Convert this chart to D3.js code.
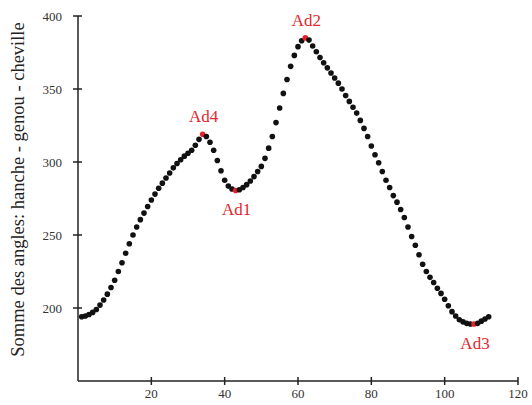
<!DOCTYPE html>
<html>
<head>
<meta charset="utf-8">
<script src="https://cdn.jsdelivr.net/npm/d3@7"></script>
<style>
  html, body { margin: 0; padding: 0; background: #fff; }
  svg { display: block; }
</style>
</head>
<body>
<svg id="chart" width="532" height="405"></svg>
<script>
// ---- data ----
const frames = d3.range(1, 113);
const sumAngles = [
  194, 194.5, 195.5, 197, 199, 202, 205.5, 209.5, 214, 219,
  225, 231, 237.5, 244, 250, 255.5, 260.5, 265, 269.5, 274,
  278, 282, 285.5, 289, 292.5, 296, 299, 301.5, 304, 306,
  308, 311.5, 315.5, 319, 317.5, 313.5, 308, 301, 294, 287.5,
  283.5, 281.5, 280.5, 281, 282.5, 284.5, 287, 290, 293.5, 297,
  302.5, 309.5, 317.5, 327, 337, 347, 356.5, 365.5, 373, 379,
  383, 385, 383.5, 379.5, 375.5, 371.5, 368, 364.5, 361, 357.5,
  354, 350, 345.5, 341.5, 337.5, 333.5, 328.5, 323, 317.5, 311,
  305, 299.5, 293.5, 287.5, 282.5, 277, 272.5, 267.5, 262, 255.5,
  249, 243, 236.5, 230, 225, 221, 217.5, 213.5, 210, 206,
  201.5, 197.5, 194.5, 192, 190.5, 189.5, 189, 189, 189.5, 191,
  192.5, 194
];
const keyNames = ["Ad4", "Ad1", "Ad2", "Ad3"];
const keyFrames = [34, 43, 62, 108];
const keyPlace = ["above", "below", "above", "below"];
const xTicks = [20, 40, 60, 80, 100, 120];
const yTicks = [200, 250, 300, 350, 400];
const yLabel = "Somme des angles: hanche - genou - cheville";

// ---- chart ----
const svg = d3.select("#chart");
const x = d3.scaleLinear().domain([0, 120]).range([78, 518]);
const y = d3.scaleLinear().domain([150, 400]).range([381, 16]);
const serif = "'Liberation Serif', 'DejaVu Serif', serif";
const tickCol = "#333";

const g = svg.append("g");

// axes lines
g.append("line").attr("x1", x(0)).attr("x2", x(120)).attr("y1", y(150)).attr("y2", y(150))
  .attr("stroke", "#222").attr("stroke-width", 1.5);
g.append("line").attr("x1", x(0)).attr("x2", x(0)).attr("y1", y(150)).attr("y2", y(400))
  .attr("stroke", "#222").attr("stroke-width", 1.5);

// x ticks
const xt = g.selectAll(".xt").data(xTicks).enter().append("g");
xt.append("line").attr("x1", d => x(d)).attr("x2", d => x(d))
  .attr("y1", y(150) - 4).attr("y2", y(150) + 4)
  .attr("stroke", "#222").attr("stroke-width", 1.5);
xt.append("text").attr("x", d => x(d)).attr("y", y(150) + 17)
  .attr("text-anchor", "middle").attr("font-family", serif).attr("font-size", 13)
  .attr("fill", tickCol).text(d => d);

// y ticks
const yt = g.selectAll(".yt").data(yTicks).enter().append("g");
yt.append("line").attr("x1", x(0) - 5).attr("x2", x(0) + 4)
  .attr("y1", d => y(d)).attr("y2", d => y(d))
  .attr("stroke", "#222").attr("stroke-width", 1.5);
yt.append("text").attr("x", x(0) - 16).attr("y", d => y(d)).attr("dy", "0.35em")
  .attr("text-anchor", "end").attr("font-family", serif).attr("font-size", 13)
  .attr("fill", tickCol).text(d => d);

// y label
g.append("text")
  .attr("transform", `translate(24, ${(y(150) + y(400)) / 2 - 9}) rotate(-90)`)
  .attr("text-anchor", "middle").attr("font-family", serif).attr("font-size", 18.5)
  .attr("fill", "#222").text(yLabel);

// points
const pts = frames.map((f, i) => ({ f, v: sumAngles[i] }));
g.selectAll(".pt").data(pts).enter().append("circle")
  .attr("cx", d => x(d.f)).attr("cy", d => y(d.v)).attr("r", 2.8)
  .attr("fill", d => keyFrames.includes(d.f) ? "#e5222a" : "#111");

// key labels
keyNames.forEach((name, i) => {
  const f = keyFrames[i];
  const v = sumAngles[frames.indexOf(f)];
  g.append("text")
    .attr("x", x(f) + 1)
    .attr("y", keyPlace[i] === "above" ? y(v) - 12 : y(v) + 25)
    .attr("text-anchor", "middle").attr("font-family", serif).attr("font-size", 17)
    .attr("fill", "#e0282e").text(name);
});
</script>
</body>
</html>
